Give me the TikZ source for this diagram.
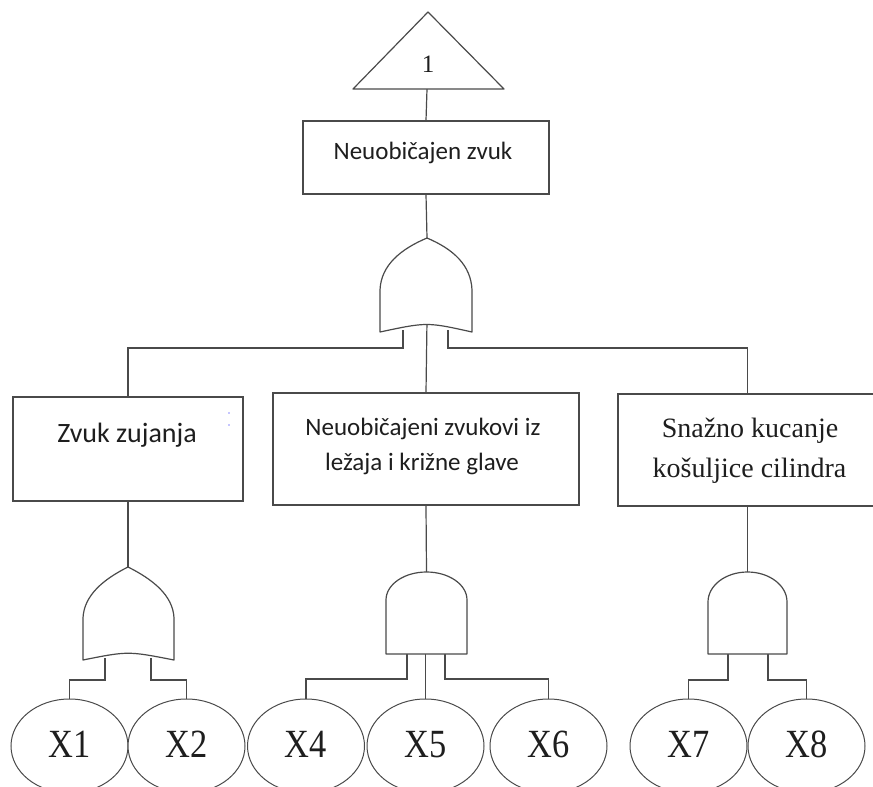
\documentclass[tikz,border=0pt]{standalone}
\usepackage{fontspec}
\setmainfont{Liberation Serif}
\newfontfamily\calibri{Carlito}
\usetikzlibrary{shapes.geometric}
\definecolor{linec}{HTML}{4A4A4A}
\definecolor{txtc}{HTML}{1E1E1E}
\newcommand\xlab[1]{\raisebox{3pt}{\scalebox{0.86}[1]{#1}}}
\tikzset{
  wire/.style={draw=linec, line width=1.2pt},
  gate/.style={draw=linec, line width=1.2pt, fill=white, line join=round},
  evbox/.style={draw=linec, line width=1.2pt, fill=white, inner sep=0pt},
  sanslbl/.style={text=txtc, font=\calibri\fontsize{25}{30}\selectfont, inner sep=0pt, anchor=base},
  seriflbl/.style={text=txtc, font=\fontsize{28}{33}\selectfont, inner sep=0pt, anchor=base},
  event/.style={ellipse, draw=linec, line width=1pt, fill=white, inner sep=0pt,
    minimum width=117pt, minimum height=94pt, text=txtc, font=\fontsize{40}{40}\selectfont},
}
\begin{document}
\begin{tikzpicture}[x=1pt,y=-1pt]
\useasboundingbox (0,0) rectangle (873,787);

% ---------- named reference points ----------
\coordinate (triB) at (427,89);
\coordinate (or1top) at (427,238);
\coordinate (or1L) at (403,330);
\coordinate (or1R) at (448,330);
\coordinate (or1C) at (427,320);
\coordinate (or2top) at (128,567);
\coordinate (or2L) at (105,658);
\coordinate (or2R) at (151,658);
\coordinate (and1top) at (426.5,572);
\coordinate (and1L) at (407,650);
\coordinate (and1C) at (425.5,650);
\coordinate (and1R) at (445,650);
\coordinate (and2top) at (747.5,572);
\coordinate (and2L) at (728,650);
\coordinate (and2R) at (768,650);

% ---------- boxes ----------
\node[evbox, minimum width=246pt, minimum height=73pt] (top) at (426,157.5) {};
\node[evbox, minimum width=230pt, minimum height=104pt] (left) at (128,449) {};
\node[evbox, minimum width=306pt, minimum height=112pt] (mid) at (426,449) {};
\node[evbox, minimum width=259pt, minimum height=112pt] (right) at (747.5,450) {};

% ---------- events ----------
\node[event] (x1) at (69.5,746) {\xlab{X1}};
\node[event] (x2) at (186.5,746) {\xlab{X2}};
\node[event] (x4) at (306,746) {\xlab{X4}};
\node[event] (x5) at (425.5,746) {\xlab{X5}};
\node[event] (x6) at (548.5,746) {\xlab{X6}};
\node[event] (x7) at (688.5,746) {\xlab{X7}};
\node[event] (x8) at (806.5,746) {\xlab{X8}};

% ---------- wires ----------
\draw[wire] (triB) -- (top.north);
\draw[wire] (top.south) -- (or1top);
\draw[wire] (or1L) -- (403,348) -| (left.north);
\draw[wire] (or1R) -- (448,348) -| (right.north);
\draw[wire] (or1C) -- (mid.north);
\draw[wire] (left.south) -- (or2top);
\draw[wire] (or2L) -- (105,680) -| (x1.north);
\draw[wire] (or2R) -- (151,680) -| (x2.north);
\draw[wire] (mid.south) -- (and1top);
\draw[wire] (and1L) -- (407,679) -| (x4.north);
\draw[wire] (and1C) -- (x5.north);
\draw[wire] (and1R) -- (445,679) -| (x6.north);
\draw[wire] (right.south) -- (and2top);
\draw[wire] (and2L) -- (728,680) -| (x7.north);
\draw[wire] (and2R) -- (768,680) -| (x8.north);

% ---------- gates ----------
\draw[gate] (353,89) -- (428,12) -- (504,89) -- cycle;
\node[text=txtc, font=\fontsize{25}{25}\selectfont, inner sep=0pt, anchor=base] (one) at (428,72) {1};

\draw[gate] (380,332) -- (380,290) .. controls (381,265) and (401,249) .. (or1top)
  .. controls (453,249) and (471,265) .. (472,290) -- (472,332)
  .. controls (427,322) .. (380,332) -- cycle;
\draw[gate] (83,660) -- (83,618) .. controls (84,595) and (104,579) .. (or2top)
  .. controls (152,579) and (173,595) .. (174,618) -- (174,660)
  .. controls (128,651) .. (83,660) -- cycle;
\draw[gate] (386,654) -- (386,600) .. controls (386,584.5) and (404.1,572) .. (and1top)
  .. controls (448.9,572) and (467,584.5) .. (467,600) -- (467,654) -- cycle;
\draw[gate] (708,654) -- (708,602) .. controls (708,585.4) and (725.7,572) .. (and2top)
  .. controls (769.3,572) and (787,585.4) .. (787,602) -- (787,654) -- cycle;

% ---------- labels ----------
\node[sanslbl] (ttop) at (423,159) {Neuobičajen zvuk};
\node[sanslbl, font=\calibri\fontsize{28}{33}\selectfont] (tleft) at (127,442) {Zvuk zujanja};
\node[sanslbl] (tmid1) at (423,435) {Neuobičajeni zvukovi iz};
\node[sanslbl] (tmid2) at (422,470) {ležaja i križne glave};
\node[seriflbl] (tright1) at (750,437) {Snažno kucanje};
\node[seriflbl] (tright2) at (749.5,477) {košuljice cilindra};

% stray blue marks
\fill[blue!45] (229,413) circle (0.9pt);
\fill[blue!45] (229,425) circle (0.9pt);
\end{tikzpicture}
\end{document}
